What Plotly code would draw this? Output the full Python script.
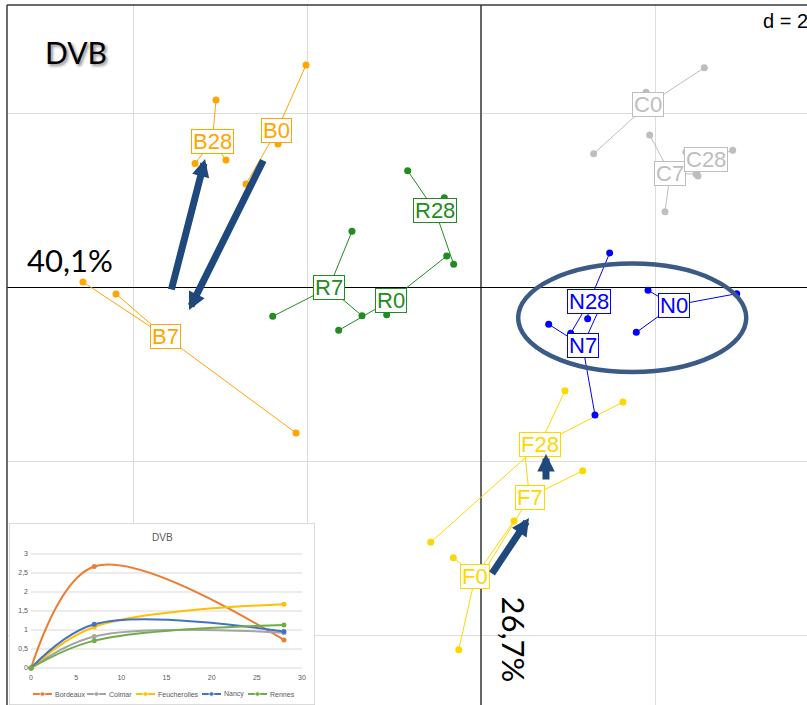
import numpy as np
import plotly.graph_objects as go

# ---------------------------------------------------------------
# Factorial map (axes 1 x 2): replicate coordinates per class
# ---------------------------------------------------------------
b0_x = [-2.011, -2.333, -2.701]
b0_y = [2.552, 1.644, 1.184]
b7_x = [-4.575, -4.195, -2.126]
b7_y = [0.057, -0.080, -1.678]
b28_x = [-3.046, -3.287, -2.931]
b28_y = [2.149, 1.420, 1.460]

c0_x = [2.567, 1.295, 1.897]
c0_y = [2.521, 1.532, 2.238]
c7_x = [1.939, 2.115, 2.471]
c7_y = [1.747, 0.866, 1.299]
c28_x = [2.893, 2.494, 2.356]
c28_y = [1.571, 1.276, 1.552]

f0_x = [-0.318, -0.256, 0.379]
f0_y = [-3.111, -4.169, -2.690]
f7_x = [1.169, 0.011, 0.494]
f7_y = [-2.111, -3.310, -1.828]
f28_x = [0.966, 1.632, -0.578]
f28_y = [-1.192, -1.322, -2.934]

n0_x = [2.939, 1.920, 1.785]
n0_y = [-0.077, -0.038, -0.521]
n7_x = [0.778, 1.310, 1.417]
n7_y = [-0.429, -1.471, -0.126]
n28_x = [1.479, 1.226, 1.031]
n28_y = [0.391, -0.364, -0.532]

r0_x = [-0.394, -1.084, -1.636]
r0_y = [0.356, -0.318, -0.498]
r7_x = [-1.483, -2.394, -1.368]
r7_y = [0.640, -0.337, -0.330]
r28_x = [-0.843, -0.314, -0.422]
r28_y = [1.337, 0.261, 1.026]

# Inset: DVB evolution over time (days)
days = [0, 7, 28]
dvb_bordeaux = [0, 2.67, 0.74]
dvb_colmar = [0, 0.83, 0.93]
dvb_feucherolles = [0, 1.08, 1.68]
dvb_nancy = [0, 1.15, 0.96]
dvb_rennes = [0, 0.72, 1.13]

inertia_axis1 = "40,1%"
inertia_axis2 = "26,7%"
grid_step = 2

# ---------------------------------------------------------------
# Page geometry
# ---------------------------------------------------------------
W, H = 807, 705
ML, MT = 7, 5
SCALE = 87.0            # pixels per unit on the factorial map
OX, OY = 481.0, 287.0   # pixel position of the origin


def paper(px, py):
    return (px - ML) / (W - ML), (H - py) / (H - MT)


x_range = [(ML - OX) / SCALE, (W - OX) / SCALE]
y_range = [(OY - H) / SCALE, (OY - MT) / SCALE]

# Inset geometry (pixels)
IN_L, IN_R, IN_T = 9, 315, 523
IN_X0, IN_X30 = 31.0, 302.0
IN_Y0, IN_Y3 = 668.0, 554.0
kx = (IN_X30 - IN_X0) / 30.0
ky = (IN_Y0 - IN_Y3) / 3.0
x2_range = [(IN_L - IN_X0) / kx, (IN_R - IN_X0) / kx]
y2_range = [(IN_Y0 - H) / ky, (IN_Y0 - IN_T) / ky]


def x2(px):
    return (px - IN_X0) / kx


def y2(py):
    return (IN_Y0 - py) / ky


# ---------------------------------------------------------------
fig = go.Figure()

classes = [
    ("B0", b0_x, b0_y, "#FFA500"), ("B7", b7_x, b7_y, "#FFA500"), ("B28", b28_x, b28_y, "#FFA500"),
    ("C0", c0_x, c0_y, "#BEBEBE"), ("C7", c7_x, c7_y, "#BEBEBE"), ("C28", c28_x, c28_y, "#BEBEBE"),
    ("F0", f0_x, f0_y, "#FFD700"), ("F7", f7_x, f7_y, "#FFD700"), ("F28", f28_x, f28_y, "#FFD700"),
    ("N0", n0_x, n0_y, "#0000FF"), ("N7", n7_x, n7_y, "#0000FF"), ("N28", n28_x, n28_y, "#0000FF"),
    ("R0", r0_x, r0_y, "#228B22"), ("R7", r7_x, r7_y, "#228B22"), ("R28", r28_x, r28_y, "#228B22"),
]

for name, xs, ys, col in classes:
    cx, cy = float(np.mean(xs)), float(np.mean(ys))
    sx, sy = [], []
    for px_, py_ in zip(xs, ys):
        sx += [cx, px_, None]
        sy += [cy, py_, None]
    fig.add_trace(go.Scatter(x=sx, y=sy, mode="lines", line=dict(color=col, width=1),
                             showlegend=False, hoverinfo="skip"))
    fig.add_trace(go.Scatter(x=xs, y=ys, mode="markers", marker=dict(color=col, size=7),
                             showlegend=False, hoverinfo="skip"))
    fig.add_annotation(x=cx, y=cy, xref="x", yref="y", text=name, showarrow=False,
                       xanchor="center", yanchor="middle",
                       font=dict(family="Liberation Sans, Arial", size=22, color=col),
                       bgcolor="white", bordercolor=col, borderwidth=1, borderpad=1,
                       height=21)

# Trajectory arrows (tail -> head, map units)
ARROW_COL = "#1F497D"
arrows = [
    ((-3.563, -0.046), (-3.172, 1.471)),
    ((-2.494, 1.471), (-3.356, -0.264)),
    ((0.115, -3.310), (0.552, -2.655)),
    ((0.747, -2.230), (0.747, -1.920)),
]
for (tx, ty), (hx, hy) in arrows:
    fig.add_annotation(x=hx, y=hy, ax=tx, ay=ty, xref="x", yref="y", axref="x", ayref="y",
                       showarrow=True, arrowhead=2, arrowsize=0.5, arrowwidth=7,
                       arrowcolor=ARROW_COL, text="", standoff=0)

# Ellipse around the Nancy samples
ell_cx, ell_cy, ell_rx, ell_ry = 1.738, -0.354, 1.311, 0.623
fig.add_shape(type="circle", xref="x", yref="y",
              x0=ell_cx - ell_rx, x1=ell_cx + ell_rx, y0=ell_cy - ell_ry, y1=ell_cy + ell_ry,
              line=dict(color="#3B5A86", width=4.5), layer="above")

# ---------------------------------------------------------------
# Inset line chart
# ---------------------------------------------------------------
fig.add_shape(type="rect", xref="x2", yref="y2",
              x0=x2_range[0], x1=x2_range[1], y0=y2_range[0], y1=y2_range[1],
              fillcolor="white", line=dict(color="#D0D0D0", width=1.5), layer="below")
for v in [0, 0.5, 1, 1.5, 2, 2.5, 3]:
    fig.add_shape(type="line", xref="x2", yref="y2", x0=0, x1=30, y0=v, y1=v,
                  line=dict(color="#D9D9D9", width=1), layer="below")

series = [
    ("Bordeaux", dvb_bordeaux, "#ED7D31"),
    ("Colmar", dvb_colmar, "#A5A5A5"),
    ("Feucherolles", dvb_feucherolles, "#FFC000"),
    ("Nancy", dvb_nancy, "#4472C4"),
    ("Rennes", dvb_rennes, "#70AD47"),
]
for name, vals, col in series:
    fig.add_trace(go.Scatter(x=days, y=vals, xaxis="x2", yaxis="y2", mode="lines+markers",
                             line=dict(color=col, width=2, shape="spline", smoothing=1.0),
                             marker=dict(color=col, size=5), showlegend=False,
                             hoverinfo="skip", cliponaxis=False))

# Inset legend, laid out by hand along the bottom edge
legend_slots = [33, 87, 136, 202, 248]
leg_y = y2(694)
for (name, vals, col), sx in zip(series, legend_slots):
    fig.add_trace(go.Scatter(x=[x2(sx), x2(sx + 9.5), x2(sx + 19)], y=[leg_y] * 3,
                             xaxis="x2", yaxis="y2", mode="lines+markers",
                             line=dict(color=col, width=2), marker=dict(color=col, size=[0, 5, 0]),
                             showlegend=False, hoverinfo="skip", cliponaxis=False))
    fig.add_annotation(x=x2(sx + 20), y=leg_y, xref="x2", yref="y2", text=name,
                       showarrow=False, xanchor="left", yanchor="middle",
                       font=dict(family="Liberation Sans, Arial", size=7, color="#595959"))

tx_, ty_ = paper(162, 537.5)
fig.add_annotation(x=tx_, y=ty_, xref="paper", yref="paper", text="DVB", showarrow=False,
                   xanchor="center", yanchor="middle",
                   font=dict(family="Liberation Sans, Arial", size=10, color="#595959"))

# ---------------------------------------------------------------
# Texts on the map
# ---------------------------------------------------------------
px_, py_ = paper(76, 52.5)
fig.add_annotation(x=px_, y=py_, xref="paper", yref="paper", text="DVB", showarrow=False,
                   xanchor="center", yanchor="middle",
                   font=dict(family="Lato", size=30, color="black",
                             shadow="2px 2px 3px rgba(0,0,0,0.45)"))
px_, py_ = paper(70, 260)
fig.add_annotation(x=px_, y=py_, xref="paper", yref="paper", text=inertia_axis1,
                   showarrow=False, xanchor="center", yanchor="middle",
                   font=dict(family="Lato", size=31, color="black"))
px_, py_ = paper(513.5, 639)
fig.add_annotation(x=px_, y=py_, xref="paper", yref="paper", text=inertia_axis2,
                   showarrow=False, textangle=90, xanchor="center", yanchor="middle",
                   font=dict(family="Lato", size=31, color="black"))
px_, py_ = paper(761, 21)
fig.add_annotation(x=px_, y=py_, xref="paper", yref="paper", text=f"d = {grid_step}",
                   showarrow=False, xanchor="left", yanchor="middle",
                   font=dict(family="Liberation Sans, Arial", size=20, color="black"))

# Frame (left and top edges fall inside the page)
fig.add_shape(type="line", xref="paper", yref="paper", x0=0, x1=0, y0=0, y1=1,
              line=dict(color="#3A3A3A", width=1.5), layer="above")
fig.add_shape(type="line", xref="paper", yref="paper", x0=0, x1=1, y0=1, y1=1,
              line=dict(color="#3A3A3A", width=1.5), layer="above")

grid_vals = [-4, -2, 0, 2]
fig.update_layout(
    width=W, height=H,
    margin=dict(l=ML, r=0, t=MT, b=0, pad=0),
    paper_bgcolor="white", plot_bgcolor="white",
    showlegend=False,
    xaxis=dict(domain=[0, 1], range=x_range, tickvals=grid_vals, showticklabels=False,
               showgrid=True, gridcolor="#DCDCDC", gridwidth=1, ticks="",
               zeroline=True, zerolinecolor="#666666", zerolinewidth=2,
               showline=False, fixedrange=True),
    yaxis=dict(domain=[0, 1], range=y_range, tickvals=grid_vals, showticklabels=False,
               showgrid=True, gridcolor="#DCDCDC", gridwidth=1, ticks="",
               zeroline=True, zerolinecolor="#000000", zerolinewidth=1,
               showline=False, fixedrange=True),
    xaxis2=dict(domain=[paper(IN_L, 0)[0], paper(IN_R, 0)[0]], range=x2_range,
                anchor="free", position=paper(0, IN_Y0)[1],
                tickvals=[0, 5, 10, 15, 20, 25, 30], showgrid=False, zeroline=False,
                showline=False, ticks="", ticklabelstandoff=4,
                tickfont=dict(family="Liberation Sans, Arial", size=7, color="#595959"),
                fixedrange=True),
    yaxis2=dict(domain=[0, paper(0, IN_T)[1]], range=y2_range,
                anchor="free", position=paper(IN_X0, 0)[0],
                tickvals=[0, 0.5, 1, 1.5, 2, 2.5, 3],
                ticktext=["0", "0,5", "1", "1,5", "2", "2,5", "3"],
                showgrid=False, zeroline=False, showline=False, ticks="",
                ticklabelstandoff=3,
                tickfont=dict(family="Liberation Sans, Arial", size=7, color="#595959"),
                fixedrange=True),
)

fig.write_html("out.html")
